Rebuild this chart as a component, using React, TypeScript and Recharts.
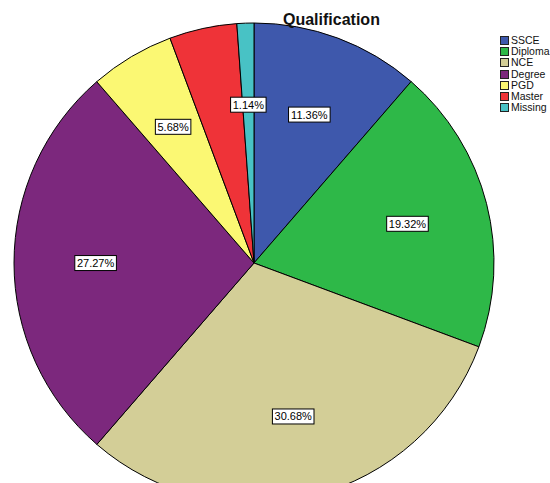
import React from 'react';
import { PieChart, Pie, Cell, Legend } from 'recharts';

const categories = ['SSCE', 'Diploma', 'NCE', 'Degree', 'PGD', 'Master', 'Missing'];
const percents = [11.36, 19.32, 30.68, 27.27, 5.68, 4.55, 1.14];
const COLORS = ['#3E58AC', '#2EB848', '#D3CE97', '#7C287D', '#FBF873', '#EF3338', '#48C2C5'];
// SPSS left the Master slice without a label
const hiddenLabels = ['Master'];

const data = categories.map((name, i) => ({ name, value: percents[i] }));

const RADIAN = Math.PI / 180;

const renderLabel = (props: any) => {
  const { cx, cy, midAngle, outerRadius, index } = props;
  if (hiddenLabels.includes(categories[index])) return null;
  const text = `${percents[index].toFixed(2)}%`;
  const r = outerRadius * 0.66;
  const x = cx + r * Math.cos(-midAngle * RADIAN);
  const y = cy + r * Math.sin(-midAngle * RADIAN);
  const w = text.length * 6.1 + 5;
  const h = 15;
  return (
    <g>
      <rect x={x - w / 2} y={y - h / 2} width={w} height={h} fill="#fff" stroke="#000" strokeWidth={1} />
      <text x={x} y={y + 4} textAnchor="middle" fontSize={11} fontFamily="Arial, Liberation Sans" fill="#000">
        {text}
      </text>
    </g>
  );
};

const renderLegend = () => (
  <div style={{ fontFamily: 'Arial, Liberation Sans', fontSize: 10.5, lineHeight: '11px' }}>
    {data.map((d, i) => (
      <div key={d.name} style={{ display: 'flex', alignItems: 'center', height: 11.2, whiteSpace: 'nowrap' }}>
        <span
          style={{
            display: 'inline-block',
            width: 7,
            height: 7,
            background: COLORS[i],
            border: '1px solid #222',
            marginRight: 2,
          }}
        />
        <span style={{ color: '#111' }}>{d.name}</span>
      </div>
    ))}
  </div>
);

const App: React.FC = () => {
  return (
    <div style={{ position: 'absolute', left: 0, top: 0, width: 550, height: 483, overflow: 'hidden', background: '#fff' }}>
      <PieChart width={550} height={483} margin={{ top: 0, right: 0, bottom: 0, left: 0 }}>
        <Pie
          data={data}
          dataKey="value"
          nameKey="name"
          cx={254}
          cy={263}
          outerRadius={240}
          startAngle={90}
          endAngle={-270}
          stroke="#000"
          strokeWidth={1}
          label={renderLabel}
          labelLine={false}
          isAnimationActive={false}
        >
          {data.map((d, i) => (
            <Cell key={`cell-${i}`} fill={COLORS[i]} />
          ))}
        </Pie>
        <Legend
          layout="vertical"
          verticalAlign="top"
          align="right"
          content={renderLegend}
          wrapperStyle={{ left: 500, top: 35, width: 60 }}
        />
      </PieChart>
      <div
        style={{
          position: 'absolute',
          left: 283,
          top: 11,
          fontFamily: 'Arial, Liberation Sans',
          fontWeight: 'bold',
          fontSize: 16,
          color: '#111',
        }}
      >
        Qualification
      </div>
    </div>
  );
};

export default App;
